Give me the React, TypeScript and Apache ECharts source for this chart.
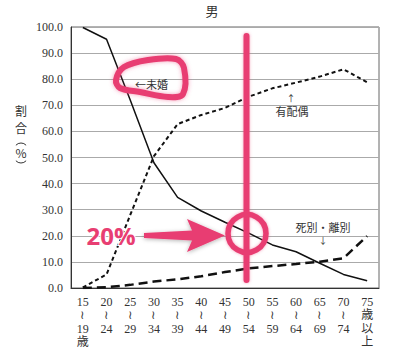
import React, { useEffect, useRef } from "react";
import * as echarts from "echarts";

const categories = [
  "15\n≀\n19\n歳", "20\n≀\n24", "25\n≀\n29", "30\n≀\n34", "35\n≀\n39", "40\n≀\n44",
  "45\n≀\n49", "50\n≀\n54", "55\n≀\n59", "60\n≀\n64", "65\n≀\n69", "70\n≀\n74", "75\n歳\n以\n上",
];
const unmarried = [99.8, 95.3, 72.0, 48.0, 34.7, 29.5, 25.2, 21.0, 16.5, 13.9, 9.5, 5.2, 2.8];
const married = [0.2, 5.2, 28.0, 50.5, 62.8, 66.3, 69.0, 73.3, 76.5, 78.7, 81.0, 83.8, 78.8];
const widowedDivorced = [0.0, 0.3, 1.2, 2.5, 3.3, 4.5, 6.1, 7.5, 8.4, 9.2, 10.1, 11.4, 19.9];

const title = "男";
const yNameChars = ["割", "合", "%"];
const seriesNames = ["未婚", "有配偶", "死別・離別"];

const PINK = "#e83e72";
const SERIF = "'Liberation Serif', 'Noto Sans CJK JP', serif";
const CJK = "'Noto Sans CJK JP', sans-serif";

const yNameY = [110, 127, 152.5];

export default function App() {
  const ref = useRef<HTMLDivElement>(null);
  useEffect(() => {
    const chart = echarts.init(ref.current!, null, { renderer: "svg" });
    chart.setOption({
      animation: false,
      backgroundColor: "#fff",
      grid: { left: 71, right: 20, top: 27, bottom: 72, show: true, borderColor: "#666", borderWidth: 1 },
      xAxis: {
        type: "category",
        data: categories,
        boundaryGap: true,
        axisLine: { lineStyle: { color: "#333", width: 1 } },
        axisTick: { inside: true, length: 4, lineStyle: { color: "#333" } },
        axisLabel: {
          interval: 0,
          color: "#333",
          fontSize: 12,
          fontFamily: SERIF,
          lineHeight: 13.5,
          margin: 7,
          verticalAlign: "top",
        },
      },
      yAxis: {
        type: "value",
        min: 0,
        max: 100,
        interval: 10,
        axisLine: { show: true, lineStyle: { color: "#333", width: 1 } },
        axisTick: { show: false },
        splitLine: { lineStyle: { color: "#aaa", width: 1 } },
        axisLabel: {
          color: "#333",
          fontSize: 12,
          fontFamily: SERIF,
          margin: 8,
          formatter: (v: number) => v.toFixed(1),
        },
      },
      series: [
        {
          name: seriesNames[0], type: "line", data: unmarried, symbol: "none",
          lineStyle: { color: "#111", width: 1.5, type: "solid" }, z: 3,
        },
        {
          name: seriesNames[1], type: "line", data: married, symbol: "none",
          lineStyle: { color: "#111", width: 2, type: [4, 3] }, z: 3,
        },
        {
          name: seriesNames[2], type: "line", data: widowedDivorced, symbol: "none",
          lineStyle: { color: "#111", width: 2.5, type: [9, 5] }, z: 3,
        },
      ],
      graphic: [
        { type: "text", x: 212, y: 10, z: 10, style: { text: title, fill: "#333", font: `13px ${CJK}`, align: "center", verticalAlign: "middle" } },
        ...yNameChars.map((c, i) => ({
          type: "text", x: 21, y: yNameY[i], z: 10,
          style: { text: c, fill: "#333", font: `12px ${CJK}`, align: "center", verticalAlign: "middle" },
        })),
        {
          type: "arc", z: 10,
          shape: { cx: 21, cy: 150, r: 7, startAngle: Math.PI + 0.75, endAngle: 2 * Math.PI - 0.75 },
          style: { stroke: "#333", lineWidth: 1, fill: "none" },
        },
        {
          type: "arc", z: 10,
          shape: { cx: 21, cy: 156, r: 7, startAngle: 0.75, endAngle: Math.PI - 0.75 },
          style: { stroke: "#333", lineWidth: 1, fill: "none" },
        },
        { type: "text", x: 135, y: 84, z: 10, style: { text: "←" + seriesNames[0], fill: "#333", font: `11px ${CJK}`, verticalAlign: "middle" } },
        { type: "text", x: 291, y: 98, z: 10, style: { text: "↑", fill: "#333", font: `9px ${CJK}`, align: "center", verticalAlign: "middle" } },
        { type: "text", x: 292, y: 111, z: 10, style: { text: seriesNames[1], fill: "#333", font: `11px ${CJK}`, align: "center", verticalAlign: "middle" } },
        { type: "text", x: 323, y: 227, z: 10, style: { text: seriesNames[2], fill: "#333", font: `11px ${CJK}`, align: "center", verticalAlign: "middle" } },
        { type: "text", x: 323, y: 240, z: 10, style: { text: "↓", fill: "#333", font: `9px ${CJK}`, align: "center", verticalAlign: "middle" } },
        {
          type: "polygon", z: 20,
          shape: {
            smooth: 0.35,
            points: [[116, 80], [124, 67], [148, 60], [176, 59], [184, 68], [183, 94], [168, 97], [140, 92], [120, 88]],
          },
          style: { fill: "none", stroke: PINK, lineWidth: 6, shadowBlur: 4, shadowColor: "rgba(232,62,114,0.5)" },
        },
        {
          type: "rect", z: 20,
          shape: { x: 243.5, y: 33, width: 6, height: 250, r: 3 },
          style: { fill: PINK, shadowBlur: 3, shadowColor: "rgba(232,62,114,0.5)" },
        },
        {
          type: "circle", z: 20,
          shape: { cx: 247, cy: 233.5, r: 19 },
          style: { fill: "none", stroke: PINK, lineWidth: 5.5, shadowBlur: 3, shadowColor: "rgba(232,62,114,0.5)" },
        },
        {
          type: "polygon", z: 20,
          shape: {
            points: [[144, 233], [192, 230.5], [187, 219], [225, 235.5], [187, 252], [192, 240.5], [144, 238]],
          },
          style: { fill: PINK, shadowBlur: 4, shadowColor: "rgba(0,0,0,0.3)", shadowOffsetY: 1 },
        },
        {
          type: "text", x: 111, y: 235, z: 20,
          style: {
            text: "20%", fill: PINK, font: "bold 24px 'Open Sans', sans-serif",
            align: "center", verticalAlign: "middle", stroke: "#fff", lineWidth: 2,
            shadowBlur: 4, shadowColor: "rgba(0,0,0,0.35)", shadowOffsetY: 1,
          },
        },
      ],
    });
    return () => chart.dispose();
  }, []);
  return <div ref={ref} style={{ position: "absolute", left: 0, top: 0, width: 399, height: 360 }} />;
}
